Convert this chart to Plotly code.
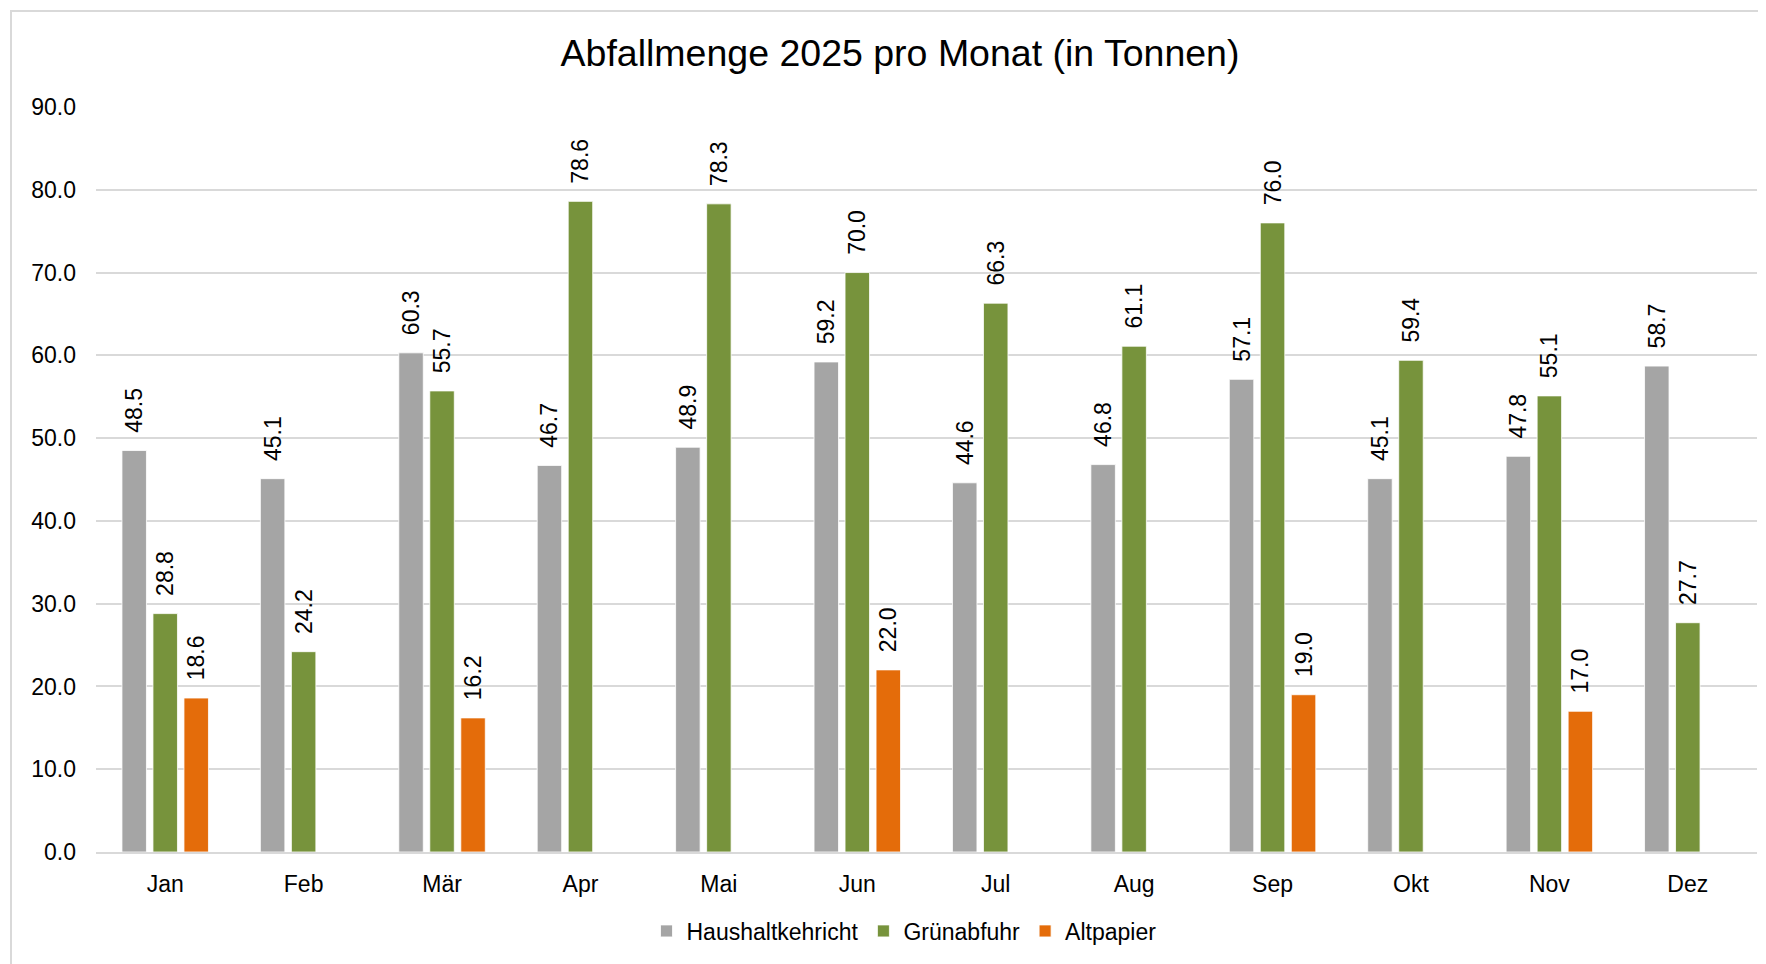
import plotly.graph_objects as go

months = ["Jan", "Feb", "Mär", "Apr", "Mai", "Jun", "Jul", "Aug", "Sep", "Okt", "Nov", "Dez"]
haushalt = [48.5, 45.1, 60.3, 46.7, 48.9, 59.2, 44.6, 46.8, 57.1, 45.1, 47.8, 58.7]
gruen = [28.8, 24.2, 55.7, 78.6, 78.3, 70.0, 66.3, 61.1, 76.0, 59.4, 55.1, 27.7]
altpapier = [18.6, None, 16.2, None, None, 22.0, None, None, 19.0, None, 17.0, None]
series_names = ["Haushaltkehricht", "Grünabfuhr", "Altpapier"]
colors = ["#A5A5A5", "#77933C", "#E46C0A"]

# page body has an 8px margin; figure sized to fit the viewport
OFF = 8
W, H = 1766 - OFF, 964 - OFF
ML, MR, MT, MB = 96 - OFF, 9, 107 - OFF, 964 - 852
PW, PH = W - ML - MR, H - MT - MB
BOTTOM = H - MB  # plot bottom in container px

FONT = "Liberation Sans, Arial, sans-serif"

fig = go.Figure()
for name, vals, col in zip(series_names, [haushalt, gruen, altpapier], colors):
    fig.add_trace(go.Bar(
        x=months, y=vals, name=name,
        marker=dict(color=col, line=dict(color="white", width=0.8)),
        text=vals,
        texttemplate="\u00a0\u00a0\u200a%{y:.1f}",
        textposition="outside",
        textangle=-90,
        constraintext="none",
        cliponaxis=False,
        textfont=dict(family=FONT, size=23, color="#000000"),
    ))

fig.update_layout(
    width=W, height=H,
    margin=dict(l=ML, r=MR, t=MT, b=MB),
    paper_bgcolor="white", plot_bgcolor="white",
    barmode="group", bargap=0.328, bargroupgap=0.21,
    font=dict(family=FONT, size=23, color="#000000"),
    title=dict(text="Abfallmenge 2025 pro Monat (in Tonnen)",
               font=dict(family=FONT, size=37.5, color="#000000"),
               x=(900 - OFF) / W, xref="container", xanchor="center",
               y=1 - (53 - OFF) / H, yref="container", yanchor="middle"),
    showlegend=True,
    legend=dict(orientation="h", xanchor="center", x=(904 - OFF - ML) / PW,
                yanchor="middle", y=-((931 - OFF) - BOTTOM) / PH,
                font=dict(family=FONT, size=23, color="#000000"),
                traceorder="normal", bgcolor="rgba(0,0,0,0)"),
    xaxis=dict(showgrid=False, showline=True, linecolor="#D9D9D9", linewidth=2,
               ticks="", ticklabelstandoff=10,
               tickfont=dict(family=FONT, size=23, color="#000000")),
    yaxis=dict(range=[0, 90], dtick=10, tickformat=".1f",
               showgrid=True, gridcolor="#D9D9D9", gridwidth=2,
               zeroline=False, showline=False, ticks="", ticklabelstandoff=19,
               tickfont=dict(family=FONT, size=23, color="#000000")),
    shapes=[dict(type="rect", xref="paper", yref="paper",
                 x0=(11 - OFF - ML) / PW, x1=(W + 10 - ML) / PW,
                 y0=-(H + 10 - BOTTOM) / PH, y1=(BOTTOM - (11 - OFF)) / PH,
                 line=dict(color="#D9D9D9", width=2), fillcolor="rgba(0,0,0,0)",
                 layer="below")],
)

fig.write_html("out.html")
